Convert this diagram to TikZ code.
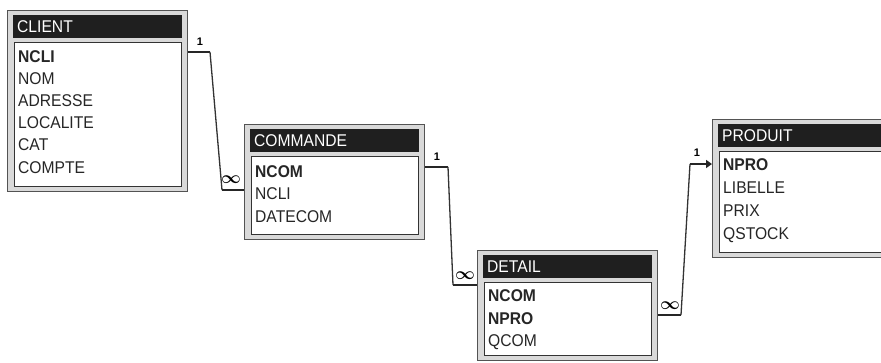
\documentclass[tikz,border=0pt]{standalone}
\usepackage{fontspec}
\setmainfont{Liberation Sans}
\newfontfamily\tablefont[FakeStretch=0.92]{Liberation Sans}
\usetikzlibrary{arrows.meta}

\begin{document}
\begin{tikzpicture}[x=1pt,y=-1pt,
  frame/.style={draw=gray!65!black,fill=gray!30,line width=1.4pt,anchor=north west,minimum width=180pt,inner sep=0pt},
  titlebar/.style={fill=black!88,text=white,anchor=north west,minimum width=169pt,minimum height=23pt,inner xsep=4pt,inner ysep=0pt,text width=161pt,align=left,text height=12pt,text depth=0pt,font=\tablefont\fontsize{17}{19}\selectfont},
  body/.style={fill=white,draw=black!80,line width=1.2pt,anchor=north west,minimum width=167pt,inner sep=0pt},
  field/.style={anchor=west,inner sep=0pt,text height=12pt,text depth=0pt,text=black!85,font=\tablefont\fontsize{17}{19}\selectfont},
  link/.style={line width=2.6pt,black!85},
  slant/.style={line width=1.3pt,black!80},
  one/.style={inner sep=0pt,font=\bfseries\fontsize{11}{12}\selectfont},
  many/.style={inner sep=0pt,font=\fontsize{16}{16}\selectfont\boldmath}]
\useasboundingbox (0,0) rectangle (881,362);
\clip (0,0) rectangle (881,362);
\fill [white] (0,0) rectangle (881,362);

% CLIENT
\node [frame,minimum height=181pt] (client) at (7,10) {};
\node [titlebar] (client-title) at (13,15) {CLIENT};
\node [body,minimum height=144pt] (client-body) at (14,42) {};
\node [field] (client-ncli) at (18,56) {\textbf{NCLI}};
\node [field] (client-nom) at (18,78.2) {NOM};
\node [field] (client-adresse) at (18,100.4) {ADRESSE};
\node [field] (client-localite) at (18,122.6) {LOCALITE};
\node [field] (client-cat) at (18,144.8) {CAT};
\node [field] (client-compte) at (18,167) {COMPTE};

% COMMANDE
\node [frame,minimum height=115pt] (commande) at (244,124) {};
\node [titlebar] (commande-title) at (250,129) {COMMANDE};
\node [body,minimum height=78pt] (commande-body) at (251,156) {};
\node [field] (commande-ncom) at (255,171) {\textbf{NCOM}};
\node [field] (commande-ncli) at (255,193) {NCLI};
\node [field] (commande-datecom) at (255,216) {DATECOM};

% DETAIL
\node [frame,minimum height=110pt] (detail) at (477,250) {};
\node [titlebar] (detail-title) at (483,255) {DETAIL};
\node [body,minimum height=73pt] (detail-body) at (484,282) {};
\node [field] (detail-ncom) at (488,295) {\textbf{NCOM}};
\node [field] (detail-npro) at (488,318) {\textbf{NPRO}};
\node [field] (detail-qcom) at (488,340) {QCOM};

% PRODUIT
\node [frame,minimum height=138pt] (produit) at (712,119) {};
\node [titlebar] (produit-title) at (718,124) {PRODUIT};
\node [body,minimum height=101pt] (produit-body) at (719,151) {};
\node [field] (produit-npro) at (723,164) {\textbf{NPRO}};
\node [field] (produit-libelle) at (723,187) {LIBELLE};
\node [field] (produit-prix) at (723,210) {PRIX};
\node [field] (produit-qstock) at (723,233) {QSTOCK};

% liens
\coordinate (c1a) at (210,52);
\coordinate (c1b) at (222,190);
\draw [link] (client.east |- c1a) -- (c1a);
\draw [slant] (c1a) -- (c1b);
\draw [link] (c1b) -- (c1b -| commande.west);
\node [one] (one-client) at (200,42) {1};
\node [many] (many-commande) at (231,180) {$\infty$};

\coordinate (c2a) at (448,167);
\coordinate (c2b) at (453,285);
\draw [link] (commande.east |- c2a) -- (c2a);
\draw [slant] (c2a) -- (c2b);
\draw [link] (c2b) -- (c2b -| detail.west);
\node [one] (one-commande) at (437,157) {1};
\node [many] (many-detail) at (465,276) {$\infty$};

\coordinate (c3a) at (681,315);
\coordinate (c3b) at (690,164);
\draw [link] (detail.east |- c3a) -- (c3a);
\draw [slant] (c3a) -- (c3b);
\draw [link,-{Triangle[length=6pt,width=8pt]}] (c3b) -- (c3b -| produit.west);
\node [one] (one-produit) at (697,153) {1};
\node [many] (many-detail2) at (670,306) {$\infty$};

\end{tikzpicture}
\end{document}
